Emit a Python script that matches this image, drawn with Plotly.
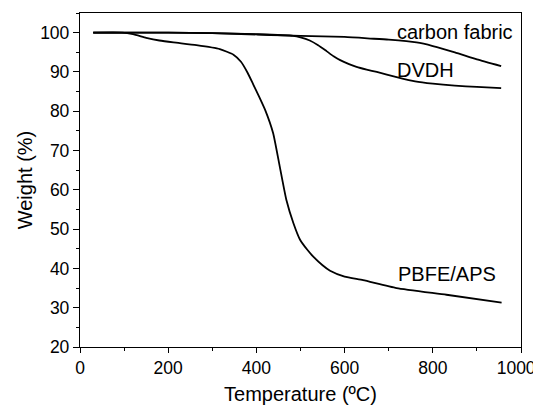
import plotly.graph_objects as go

# Carbon fabric
cf_T = [30, 200, 300, 431, 500, 600, 658, 700, 763, 800, 850, 900, 955]
cf_W = [100, 100, 99.9, 99.4, 99.2, 98.9, 98.5, 98.2, 97.5, 96.6, 95.0, 93.2, 91.5]

# DVDH
dv_T = [30, 200, 300, 400, 483, 500, 521, 540, 559, 575, 590, 610, 627, 650, 673, 718, 760, 800,
        850, 900, 955]
dv_W = [100, 100, 99.9, 99.6, 99.2, 98.8, 98.0, 96.8, 95.3, 94.0, 93.0, 92.0, 91.3, 90.6, 90.0,
        88.7, 87.6, 87.0, 86.5, 86.2, 85.9]

# PBFE/APS
pb_T = [30, 95, 120, 150, 180, 212, 264, 317, 348, 365, 380, 393, 405, 420, 438, 453, 468, 484,
        499, 515, 529, 550, 567, 600, 642, 718, 831, 956]
pb_W = [100, 100, 99.6, 98.7, 98.0, 97.5, 96.8, 95.8, 94.4, 92.6, 89.8, 86.8, 84.0, 80.3, 74.4,
        65.9, 57.4, 51.5, 47.3, 44.8, 43.0, 40.8, 39.4, 37.9, 37.0, 35.0, 33.3, 31.3]

x_tickvals = [0, 200, 400, 600, 800, 1000]
x_ticktext = ["0", "200", "400", "600", "800", "1000\u00a0\u00a0"]
y_tickvals = [20, 30, 40, 50, 60, 70, 80, 90, 100]

labels = ["carbon fabric", "DVDH", "PBFE/APS"]
label_pos = [(714, 100.2), (714, 90.4), (716, 38.6)]

FONT = "Liberation Sans, Arial, sans-serif"

fig = go.Figure()
for T, W in [(cf_T, cf_W), (dv_T, dv_W), (pb_T, pb_W)]:
    fig.add_trace(go.Scatter(x=T, y=W, mode="lines",
                             line=dict(color="black", width=1.8, shape="spline", smoothing=0.5),
                             showlegend=False, hoverinfo="skip"))

for txt, (x, y) in zip(labels, label_pos):
    fig.add_annotation(x=x, y=y, text=txt, showarrow=False, xanchor="left", yanchor="middle",
                       font=dict(family=FONT, size=20, color="black"))

axis_common = dict(showgrid=False, zeroline=False, showline=True, linecolor="black", linewidth=1.3,
                   mirror=True, ticks="outside", tickcolor="black", tickwidth=1.3, automargin=False,
                   ticklabeloverflow="allow",
                   tickfont=dict(family=FONT, size=17.5, color="black"))

fig.update_xaxes(range=[0, 1000], tickvals=x_tickvals, ticktext=x_ticktext, ticklen=5,
                 minor=dict(dtick=100, ticks="outside", ticklen=3, tickcolor="black", tickwidth=1.3),
                 title=dict(text="Temperature (ºC)", font=dict(family=FONT, size=20, color="black"), standoff=9),
                 **axis_common)
fig.update_yaxes(range=[20, 105], tickvals=y_tickvals, ticklen=6,
                 minor=dict(dtick=5, ticks="outside", ticklen=3, tickcolor="black", tickwidth=1.3),
                 title=dict(text="Weight (%)", font=dict(family=FONT, size=20, color="black"), standoff=2),
                 **axis_common)

# page body adds an 8px offset; size and margins compensate for it
fig.update_layout(width=545, height=400, margin=dict(l=72, r=32, t=5, b=61),
                  plot_bgcolor="white", paper_bgcolor="white")

fig.write_html("out.html")
